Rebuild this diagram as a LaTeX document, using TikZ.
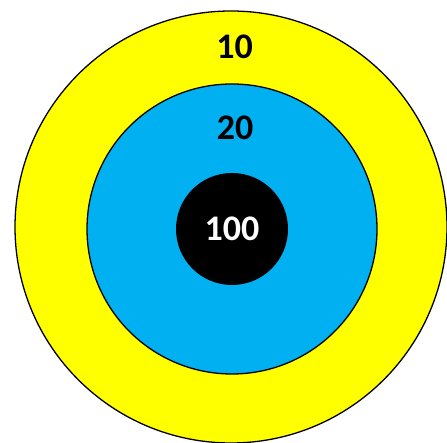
\documentclass[tikz,border=0pt]{standalone}
\usepackage{fontspec}
\setmainfont{Carlito}
\usetikzlibrary{positioning, calc}
\definecolor{ringYellow}{RGB}{255, 255, 0}
\definecolor{ringBlue}{RGB}{0, 176, 240}

\begin{document}
\begin{tikzpicture}[x=1pt, y=1pt, font=\fontsize{36}{42}\selectfont\bfseries,
        ring/.style={circle, draw=black, line width=1.3pt, inner sep=0pt}]
        \useasboundingbox (0,0) rectangle (447,443);
        \node[ring, fill=ringYellow, minimum size=432pt] (outer) at (231,216) {};
        \node[ring, fill=ringBlue, minimum size=290pt] (middle) at (232,214) {};
        \node[circle, fill=black, minimum size=112pt, text=white] (bull) at (232,214) {100};
        \node[xshift=3pt] (lbl10) at ($(outer.north)!0.5!(middle.north)$) {10};
        \node[xshift=3pt] (lbl20) at ($(middle.north)!0.5!(bull.north)$) {20};
    \end{tikzpicture}
\end{document}
